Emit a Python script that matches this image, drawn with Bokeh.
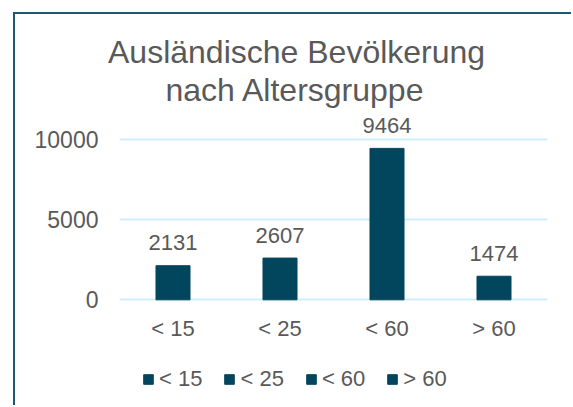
from bokeh.plotting import figure
from bokeh.models import (FactorRange, Range1d, FixedTicker, Legend, LegendItem,
                          Title, ColumnDataSource)
from bokeh.embed import file_html
from bokeh.resources import INLINE
from bokeh.core.properties import value

categories = ["< 15", "< 25", "< 60", "> 60"]
values = [2131, 2607, 9464, 1474]
y_ticks = [0, 5000, 10000]
title_lines = ["Ausländische Bevölkerung", "nach Altersgruppe"]

BAR = "#02465e"
TEXT = "#595959"
GRID = "#cdeefa"
EDGE = "#1d5870"
FONT = "Liberation Sans"

src = ColumnDataSource(dict(cat=categories, val=values, lab=[str(v) for v in values]))

p = figure(width=558, height=393, output_backend="svg", toolbar_location=None,
           x_range=FactorRange(*categories, range_padding=0),
           y_range=Range1d(-6731, 12019),
           min_border_left=104, min_border_right=26,
           min_border_top=93, min_border_bottom=0,
           styles={"margin-left": "13px", "margin-top": "12px",
                   "border-left": f"2px solid {EDGE}", "border-top": f"2px solid {EDGE}"})
p.title = None
p.outline_line_color = None
p.background_fill_color = "white"
p.border_fill_color = "white"

r = p.vbar(x="cat", top="val", width=0.318, source=src, color=BAR)
p.text(x="cat", y="val", text="lab", source=src, y_offset=-23,
       text_align="center", text_baseline="alphabetic",
       text_font=value(FONT), text_font_size="22px", text_color=TEXT)

p.xgrid.grid_line_color = None
p.ygrid.ticker = FixedTicker(ticks=y_ticks)
p.ygrid.grid_line_color = GRID
p.ygrid.grid_line_width = 2

p.yaxis.ticker = FixedTicker(ticks=y_ticks)
for ax in (p.xaxis, p.yaxis):
    ax.axis_line_color = None
    ax.major_tick_line_color = None
    ax.minor_tick_line_color = None
    ax.major_label_text_font = FONT
    ax.major_label_text_color = TEXT
p.yaxis.major_label_text_font_size = "23px"
p.yaxis.major_label_standoff = 15
p.xaxis.major_label_text_font_size = "22px"
p.xaxis.major_label_standoff = 10
p.xaxis.fixed_location = 0

items = [LegendItem(label=c, renderers=[r], index=i) for i, c in enumerate(categories)]
legend = Legend(items=items, orientation="horizontal", location=(23, 15),
                padding=0, margin=0, spacing=21, label_standoff=5,
                glyph_width=12, glyph_height=12, label_height=25,
                label_text_font=FONT, label_text_font_size="22px", label_text_color=TEXT,
                border_line_color=None, background_fill_alpha=0)
p.add_layout(legend)

p.add_layout(Title(text=title_lines[1], align="left", offset=46, standoff=0,
                   text_font=FONT, text_font_size="32px", text_font_style="normal",
                   text_color=TEXT), "above")
p.add_layout(Title(text=title_lines[0], align="left", offset=-11.5, standoff=0,
                   text_font=FONT, text_font_size="32px", text_font_style="normal",
                   text_color=TEXT), "above")

open("out.html", "w").write(file_html(p, INLINE))
